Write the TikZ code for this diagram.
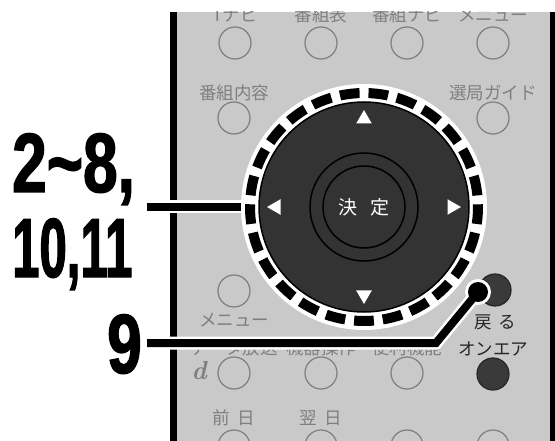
\documentclass[tikz,border=0pt]{standalone}
\usepackage{fontspec}
\usepackage{graphicx}
\usepackage{tikz}
\usetikzlibrary{positioning,calc,shapes.geometric}
\newfontfamily\jpfont{Noto Sans CJK JP}
\newfontfamily\numfont{Liberation Sans}[FakeStretch=0.74,FakeBold=1.6]
\definecolor{panel}{HTML}{C9C9C9}
\definecolor{keygray}{HTML}{7F7F7F}
\definecolor{dialdark}{HTML}{333333}
\definecolor{keydark}{HTML}{3A3A3A}
\definecolor{ink}{HTML}{262626}
\tikzset{
    keybtn/.style={circle,draw=keygray,line width=1.2pt,minimum size=32pt,
      inner sep=0pt,outer sep=0pt},
    darkbtn/.style={keybtn,draw=black!85,fill=keydark},
    keylabel/.style={text=keygray,font=\jpfont\fontsize{17.5}{18}\selectfont,
      inner sep=0pt,text height=14.5pt,text depth=2pt},
    darklabel/.style={keylabel,text=ink},
    bignum/.style={font=\numfont\bfseries\fontsize{84}{84}\selectfont,
      inner sep=0pt,anchor=base west},
    navtri/.style={regular polygon,regular polygon sides=3,fill=white,
      minimum size=18pt,inner sep=0pt},
    leadline/.style={line width=8pt,draw=black,line join=miter,
      preaction={draw=white,line width=13pt}}
}
\begin{document}
\begin{tikzpicture}[x=1pt,y=-1pt]
  \useasboundingbox (0,0) rectangle (555,441);
  % remote body
  \begin{scope}
    \clip (173,12) rectangle (554,441);
    \fill[panel] (173,12) rectangle (554,441);
    \foreach \n/\x/\t in {a/235/Tナビ,b/321/番組表,c/407/番組ナビ,d/493/メニュー} {
      \node[keybtn] (top\n) at (\x,43) {};
      \node[keylabel,above=3.75pt of top\n] {\t};
    }
    \node[keybtn] (bInfo) at (234,118) {};
    \node[keylabel,above=0.75pt of bInfo] {番組内容};
    \node[keybtn] (bGuide) at (493,118) {};
    \node[keylabel,above=0.75pt of bGuide] {選局ガイド};
    \node[keybtn] (bMenu) at (234,291) {};
    \node[keylabel,below=4.75pt of bMenu] {メニュー};
    \node[darkbtn] (bBack) at (495,290) {};
    \node[darklabel,below=7.75pt of bBack] {戻\hspace{7pt}る};
    \foreach \n/\x/\t in {a/234/データ放送,b/321/機器操作,c/407/便利機能} {
      \node[keybtn] (mid\n) at (\x,373) {};
      \node[keylabel,above=0.75pt of mid\n] {\t};
    }
    \node[darkbtn] (bOnAir) at (493,374) {};
    \node[darklabel,above=0.75pt of bOnAir] {オンエア};
    \node[text=keygray,font=\bfseries\itshape\fontsize{26}{26}\selectfont]
      (dLogo) at (199,371) {d};
    \foreach \n/\x in {a/234,b/321,c/407,d/493}
      \node[keybtn] (low\n) at (\x,446) {};
    \node[keylabel,above=3.75pt of lowa] {前\hspace{8pt}日};
    \node[keylabel,above=3.75pt of lowb] {翌\hspace{8pt}日};
  \end{scope}
  \draw[line width=7pt] (173.5,12) -- (173.5,441);
  \draw[line width=7pt] (553.5,12) -- (553.5,441);
  % cross key
  \node[circle,fill=white,minimum size=246pt,inner sep=0pt,outer sep=0pt]
    (dialRing) at (364,207) {};
  \draw[line width=10pt,dash pattern=on 19.7pt off 8.95pt,dash phase=9.85pt]
    (dialRing.center) ++(270:114pt) arc[start angle=270,end angle=630,radius=114pt];
  \node[circle,fill=dialdark,draw=black,line width=1.5pt,minimum size=210pt,
    inner sep=0pt] (dial) at (dialRing.center) {};
  \draw[line width=1.5pt] (dial.center) circle[radius=54pt]
    (dial.center) circle[radius=41pt];
  \node[text=white,font=\jpfont\fontsize{19}{19}\selectfont] (okKey)
    at (dial.center) {決\hspace{14pt}定};
  \foreach \a in {0,90,180,270}
    \node[navtri,rotate=\a-90] at ($(dial.center)+(\a:88pt)$) {};
  % callouts
  \node[bignum] (navNums) at (12,192) {2\textasciitilde 8,};
  \node[bignum] (navNumsB) at (12,277) {\scalebox{0.79}[1]{10,11}};
  \node[bignum] (backNum) at (107,373) {9};
  \coordinate (navFrom) at (147,207);
  \draw[leadline] (navFrom) -- (dialRing.west);
  \node[circle,fill=white,minimum size=26pt,inner sep=0pt] (backDot) at (478,292) {};
  \coordinate (backFrom) at (147,343);
  \coordinate (backBend) at (436,343);
  \draw[leadline] (backFrom) -- (backBend) -- (backDot.center);
  \fill (backDot.center) circle[radius=10pt];
\end{tikzpicture}
\end{document}
